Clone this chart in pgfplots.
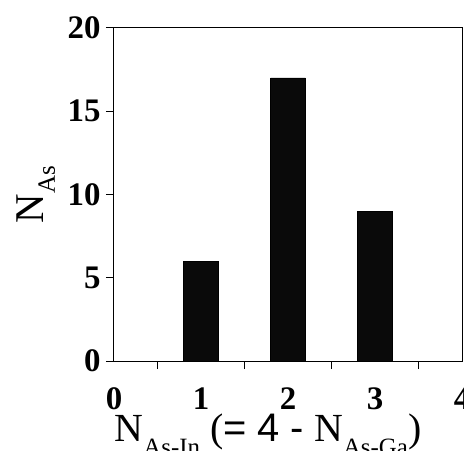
\documentclass[border=0pt]{standalone}
\usepackage{fontspec}
\setmainfont{Liberation Serif}
\setsansfont{Liberation Sans}
\usepackage{pgfplots}
\pgfplotsset{compat=1.18}
\begin{document}
\begin{tikzpicture}
\begin{axis}[
  scale only axis, width=348bp, height=333bp,
  xmin=0, xmax=4, ymin=0, ymax=20,
  axis line style={line width=1bp, black},
  every tick/.style={line width=1bp, black},
  xtick={0,1,2,3,4},
  minor xtick={0.5,1.5,2.5,3.5},
  ytick={0,5,10,15,20},
  minor ytick={0,5,10,15,20},
  major tick length=0pt,
  minor tick length=8bp,
  tick align=outside,
  xtick pos=bottom, ytick pos=left,
  /pgf/number format/assume math mode=true,
  ticklabel style={font=\bfseries\fontsize{33}{33}\selectfont},
  xticklabel style={yshift=-23bp},
  yticklabel style={xshift=-10bp},
  xlabel={N\raisebox{-0.36em}{\fontsize{25}{25}\selectfont As-In} ({\sffamily = 4 -} N\raisebox{-0.36em}{\fontsize{25}{25}\selectfont As-Ga})},
  xlabel style={at={(rel axis cs:0.5,0)}, anchor=base, yshift=-80bp, xshift=-20bp, font=\fontsize{40}{40}\selectfont},
  ylabel={N\raisebox{-0.28em}{\fontsize{25}{25}\selectfont As}},
  ylabel style={at={(rel axis cs:0,0.5)}, anchor=center, yshift=78bp, font=\fontsize{41}{41}\selectfont},
]
\addplot[ybar, bar width=0.4, fill=black!96, draw=black] coordinates {(1,6) (2,17) (3,9)};
\coordinate (ll) at (rel axis cs:0,0);
\coordinate (ur) at (rel axis cs:1,1);
\end{axis}
\pgfresetboundingbox
\path[use as bounding box] ([shift={(-114bp,-90bp)}]ll) rectangle ([shift={(2bp,28bp)}]ur);
\end{tikzpicture}
\end{document}
